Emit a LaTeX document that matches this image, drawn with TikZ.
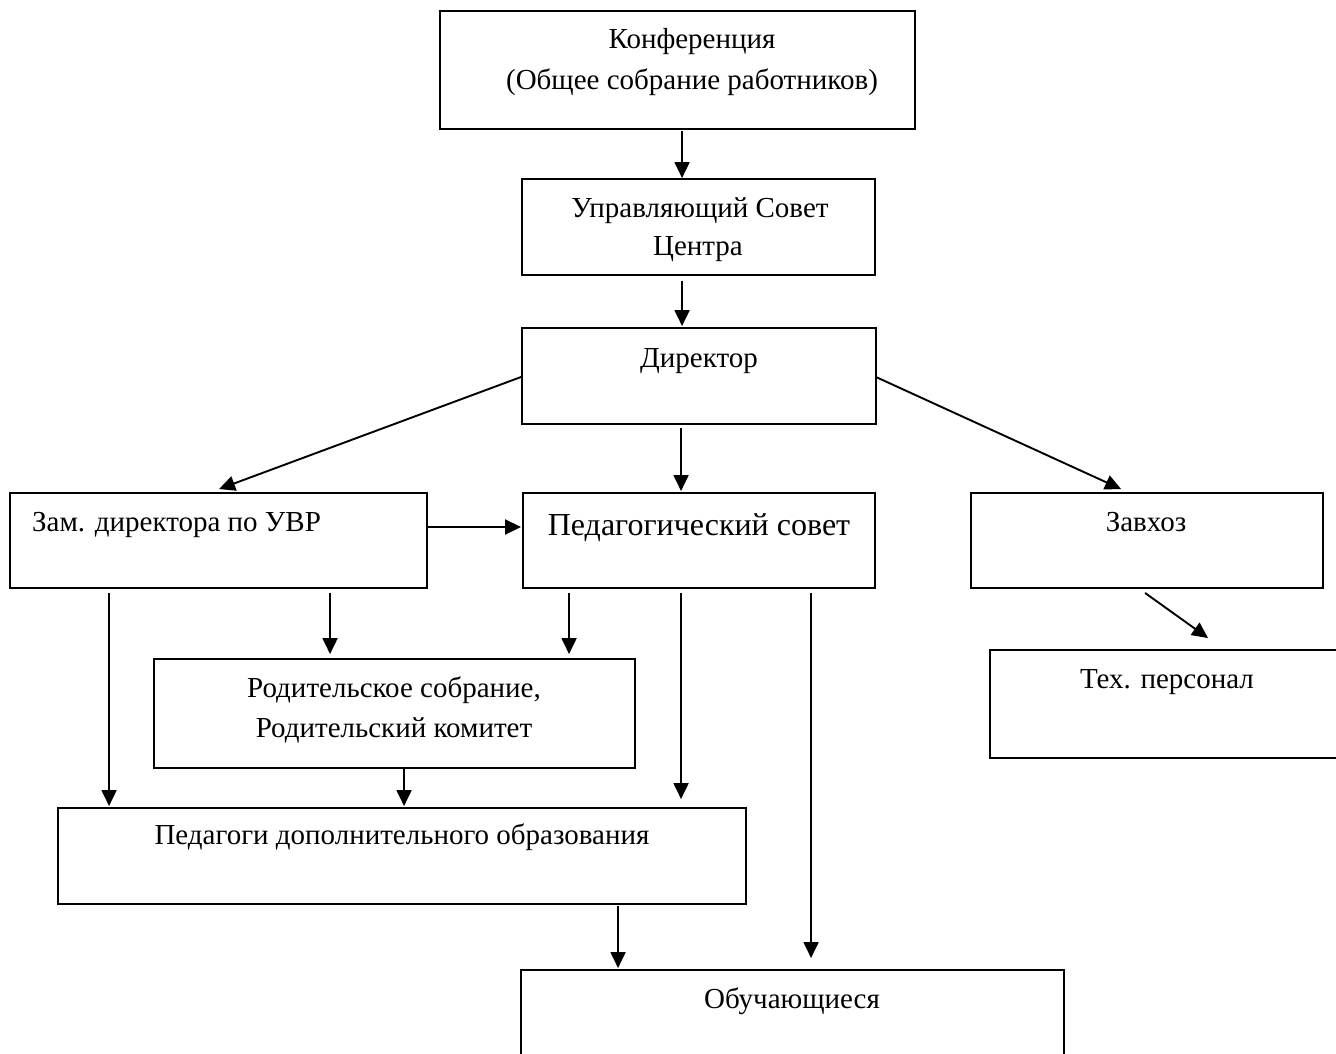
\documentclass[tikz,border=0pt]{standalone}
\usepackage{fontspec}
\setmainfont{Liberation Serif}
\usetikzlibrary{arrows.meta,calc}
\begin{document}
\begin{tikzpicture}[x=1pt,y=-1pt,
  box/.style={draw,line width=1.9pt,rectangle,inner sep=0pt},
  lbl/.style={anchor=base,inner sep=0pt,font=\fontsize{29}{35}\selectfont},
  big/.style={lbl,font=\fontsize{32}{38}\selectfont},
  arr/.style={line width=1.9pt,-{Triangle[length=16pt,width=15pt]}},
]
\useasboundingbox (0,0) rectangle (1336,1054);
\clip (0,0) rectangle (1336,1054);
\fill[white] (0,0) rectangle (1336,1054);

% boxes
\node[box,minimum width=475pt,minimum height=118pt] (konf) at (677.5,70) {};
\node[box,minimum width=353pt,minimum height=96pt] (upr) at (698.5,227) {};
\node[box,minimum width=354pt,minimum height=96pt] (dir) at (699,376) {};
\node[box,minimum width=417pt,minimum height=95pt] (zam) at (218.5,540.5) {};
\node[box,minimum width=352pt,minimum height=95pt] (ps) at (699,540.5) {};
\node[box,minimum width=352pt,minimum height=95pt] (zav) at (1147,540.5) {};
\node[box,minimum width=380pt,minimum height=108pt] (tex) at (1180,704) {};
\node[box,minimum width=481pt,minimum height=109pt] (rod) at (394.5,713.5) {};
\node[box,minimum width=688pt,minimum height=96pt] (ped) at (402,856) {};
\node[box,minimum width=543pt,minimum height=130pt] (obu) at (792.5,1035) {};

% texts
\node[lbl] (konfA) at (692,49) {Конференция};
\node[lbl] (konfB) at (692,90) {(Общее собрание работников)};
\node[lbl] (uprA) at (700,217) {Управляющий Совет};
\node[lbl] (uprB) at (698,255) {Центра};
\node[lbl] (dirA) at (699,367) {Директор};
\node[lbl,anchor=base west] (zamA) at (32,531) {Зам. директора по УВР};
\node[big] (psA) at (699,535) {Педагогический совет};
\node[lbl] (zavA) at (1146,531) {Завхоз};
\node[lbl] (texA) at (1167,688) {Тех. персонал};
\node[lbl] (rodA) at (394,697) {Родительское собрание,};
\node[lbl] (rodB) at (394,737) {Родительский комитет};
\node[lbl] (pedA) at (402,844) {Педагоги дополнительного образования};
\node[lbl] (obuA) at (792,1008) {Обучающиеся};

% connectors
\draw[arr] ($(konf.south west)+(243,1)$) -- ($(upr.north west)+(161,0)$);
\draw[arr] ($(upr.south west)+(161,5)$) -- ($(dir.north west)+(161,-1)$);
\draw[arr] ($(dir.west)+(0,1)$) -- ($(zam.north west)+(210,-3)$);
\draw[arr] ($(dir.south west)+(160,3)$) -- ($(ps.north west)+(159,-1)$);
\draw[arr] ($(dir.east)+(-1,1)$) -- ($(zav.north west)+(151,-3)$);
\draw[arr] ($(zam.east)+(0,-13.5)$) -- ($(ps.west)+(-1,-13.5)$);
\draw[arr] ($(zam.south west)+(100,4)$) -- ($(ped.north west)+(52,-1)$);
\draw[arr] ($(zam.south west)+(321,4)$) -- ($(rod.north west)+(177,-4)$);
\draw[arr] ($(ps.south west)+(47,4)$) -- ($(rod.north west)+(416,-4)$);
\draw[arr] ($(ps.south west)+(159,4)$) -- ($(ped.north west)+(624,-8)$);
\draw[arr] ($(ps.south west)+(289,4)$) -- ($(obu.north west)+(291,-11)$);
\draw[arr] ($(rod.south west)+(251,0)$) -- ($(ped.north west)+(347,-1)$);
\draw[arr] ($(ped.south west)+(561,1)$) -- ($(obu.north west)+(98,-1)$);
\draw[arr] ($(zav.south west)+(175,4)$) -- ($(tex.north west)+(219,-11)$);
\end{tikzpicture}
\end{document}
